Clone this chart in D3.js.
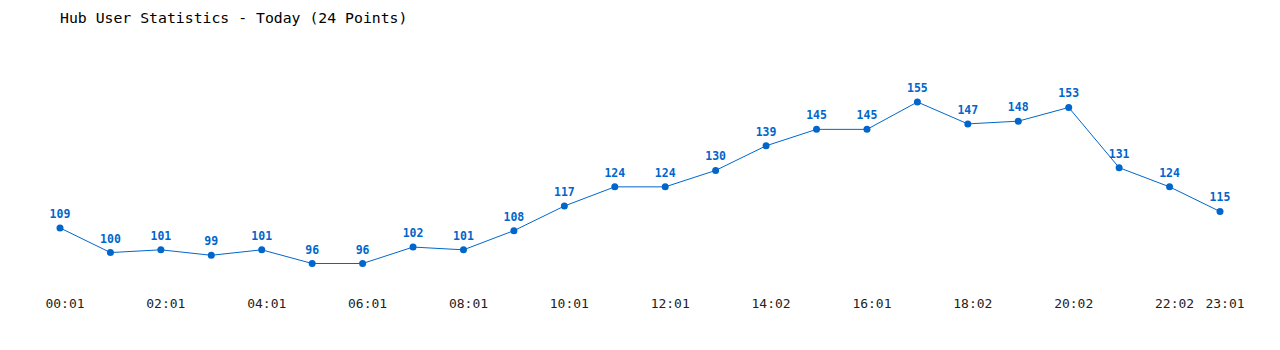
<!DOCTYPE html>
<html>
<head>
<meta charset="utf-8">
<script src="https://cdn.jsdelivr.net/npm/d3@7"></script>
<style>
  body { margin: 0; background: #fff; }
  svg { display: block; }
  .title { font-family: "DejaVu Sans Mono", monospace; font-size: 14.8px; fill: #000; }
  .val-label { font-family: "DejaVu Sans Mono", monospace; font-size: 11.5px; font-weight: bold; fill: #0066cc; }
  .x-label { font-family: "DejaVu Sans Mono", monospace; font-size: 13px; fill: #222; }
</style>
</head>
<body>
<svg id="chart-svg" width="1280" height="350"></svg>
<script>
const times = ["00:01","01:01","02:01","03:01","04:01","05:01","06:01","07:01","08:01","09:01","10:01","11:01",
               "12:01","13:01","14:02","15:01","16:01","17:01","18:02","19:01","20:02","21:01","22:02","23:01"]
const users = [109, 100, 101, 99, 101, 96, 96, 102, 101, 108, 117, 124,
               124, 130, 139, 145, 145, 155, 147, 148, 153, 131, 124, 115]
const tick_labels = ["00:01","02:01","04:01","06:01","08:01","10:01","12:01","14:02","16:01","18:02","20:02","22:02","23:01"]

const line_color = "#0066cc"

const svg = d3.select("#chart-svg")

svg.append("text")
    .attr("class", "title")
    .attr("x", 60)
    .attr("y", 23)
    .text("Hub User Statistics - Today (24 Points)")

const x = d3.scalePoint()
    .domain(times)
    .range([60, 1220])

const y = d3.scaleLinear()
    .domain([96, 155])
    .range([263.5, 102])

const line = d3.line()
    .x((d, i) => x(times[i]))
    .y(d => y(d))

svg.append("path")
    .datum(users)
    .attr("d", line)
    .attr("fill", "none")
    .attr("stroke", line_color)
    .attr("stroke-width", 1)

svg.selectAll(".pt")
    .data(users)
    .enter()
    .append("circle")
    .attr("class", "pt")
    .attr("cx", (d, i) => x(times[i]))
    .attr("cy", d => y(d))
    .attr("r", 3.5)
    .attr("fill", line_color)

svg.selectAll(".val-label")
    .data(users)
    .enter()
    .append("text")
    .attr("class", "val-label")
    .attr("x", (d, i) => x(times[i]))
    .attr("y", d => y(d) - 10)
    .attr("text-anchor", "middle")
    .text(d => d)

// x axis labels, no axis line in the original
svg.selectAll(".x-label")
    .data(tick_labels)
    .enter()
    .append("text")
    .attr("class", "x-label")
    .attr("x", d => x(d) + 5)
    .attr("y", 308)
    .attr("text-anchor", "middle")
    .text(d => d)
</script>
</body>
</html>
